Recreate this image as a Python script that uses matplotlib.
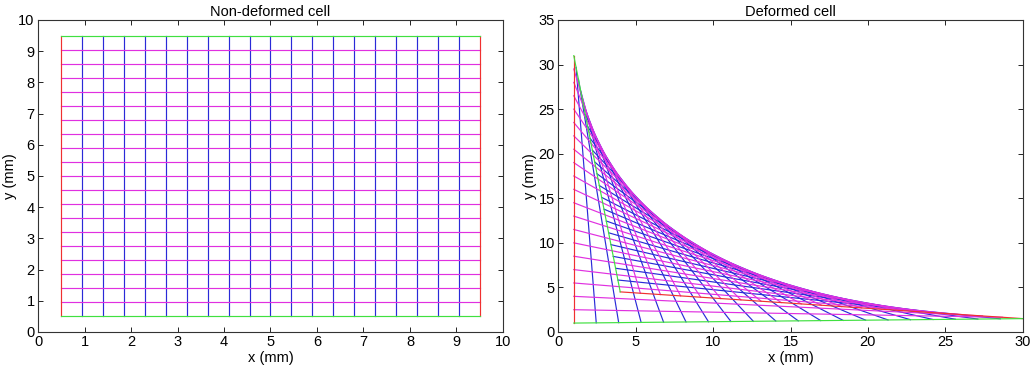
import numpy as np
import matplotlib
matplotlib.use('Agg')
import matplotlib.pyplot as plt

plt.rcParams['font.family'] = ['Liberation Sans', 'DejaVu Sans']
plt.rcParams['font.size'] = 10.5

# non-deformed grid (mm)
grid_x = [0.5, 0.95, 1.4, 1.85, 2.3, 2.75, 3.2, 3.65, 4.1, 4.55, 5.0,
          5.45, 5.9, 6.35, 6.8, 7.25, 7.7, 8.15, 8.6, 9.05, 9.5]
grid_y = [0.5, 0.95, 1.4, 1.85, 2.3, 2.75, 3.2, 3.65, 4.1, 4.55, 5.0,
          5.45, 5.9, 6.35, 6.8, 7.25, 7.7, 8.15, 8.6, 9.05, 9.5]

# deformed cell: images of the vertical lines (bottom end -> top end)
vbot_x = [1.0, 2.45, 3.9, 5.35, 6.8, 8.25, 9.7, 11.15, 12.6, 14.05, 15.5,
          16.95, 18.4, 19.85, 21.3, 22.75, 24.2, 25.65, 27.1, 28.55, 30.0]
vbot_y = [1.0, 1.03, 1.05, 1.08, 1.1, 1.13, 1.15, 1.18, 1.2, 1.23, 1.25,
          1.28, 1.3, 1.33, 1.35, 1.38, 1.4, 1.43, 1.45, 1.48, 1.5]
vtop_x = [1.0, 1.15, 1.3, 1.45, 1.6, 1.75, 1.9, 2.05, 2.2, 2.35, 2.5,
          2.65, 2.8, 2.95, 3.1, 3.25, 3.4, 3.55, 3.7, 3.85, 4.0]
vtop_y = [31.0, 29.68, 28.35, 27.03, 25.7, 24.38, 23.05, 21.73, 20.4, 19.08, 17.75,
          16.43, 15.1, 13.78, 12.45, 11.13, 9.8, 8.48, 7.15, 5.83, 4.5]

# deformed cell: images of the horizontal lines (left end -> right end)
hleft_x = [1.0] * 21
hleft_y = [1.0, 2.5, 4.0, 5.5, 7.0, 8.5, 10.0, 11.5, 13.0, 14.5, 16.0,
           17.5, 19.0, 20.5, 22.0, 23.5, 25.0, 26.5, 28.0, 29.5, 31.0]
hright_x = [30.0, 28.7, 27.4, 26.1, 24.8, 23.5, 22.2, 20.9, 19.6, 18.3, 17.0,
            15.7, 14.4, 13.1, 11.8, 10.5, 9.2, 7.9, 6.6, 5.3, 4.0]
hright_y = [1.5, 1.65, 1.8, 1.95, 2.1, 2.25, 2.4, 2.55, 2.7, 2.85, 3.0,
            3.15, 3.3, 3.45, 3.6, 3.75, 3.9, 4.05, 4.2, 4.35, 4.5]

blue = '#2a2ad8'
mag = '#e030e0'
red = '#f03030'
green = '#40e040'
lw = 0.85

fig = plt.figure(figsize=(10.36, 3.69), dpi=100)
ax1 = fig.add_axes([0.0367, 0.1003, 0.4488, 0.8455])
ax2 = fig.add_axes([0.5389, 0.1003, 0.4483, 0.8455])

# left: non-deformed
n = len(grid_x)
for i in range(1, n - 1):
    ax1.plot([grid_x[i], grid_x[i]], [grid_y[0], grid_y[-1]], color=blue, lw=lw)
for j in range(1, n - 1):
    ax1.plot([grid_x[0], grid_x[-1]], [grid_y[j], grid_y[j]], color=mag, lw=lw)
for i in [0, n - 1]:
    ax1.plot([grid_x[i], grid_x[i]], [grid_y[0], grid_y[-1]], color=red, lw=lw)
for j in [0, n - 1]:
    ax1.plot([grid_x[0], grid_x[-1]], [grid_y[j], grid_y[j]], color=green, lw=lw)

# right: deformed
for i in range(1, n - 1):
    ax2.plot([vbot_x[i], vtop_x[i]], [vbot_y[i], vtop_y[i]], color=blue, lw=lw)
for j in range(1, n - 1):
    ax2.plot([hleft_x[j], hright_x[j]], [hleft_y[j], hright_y[j]], color=mag, lw=lw)
for i in [0, n - 1]:
    ax2.plot([vbot_x[i], vtop_x[i]], [vbot_y[i], vtop_y[i]], color=red, lw=lw)
for j in [0, n - 1]:
    ax2.plot([hleft_x[j], hright_x[j]], [hleft_y[j], hright_y[j]], color=green, lw=lw)

ax1.set_xlim(0, 10)
ax1.set_ylim(0, 10)
ax1.set_xticks(range(0, 11))
ax1.set_yticks(range(0, 11))
ax1.set_title('Non-deformed cell', fontsize=10.5, pad=3)

ax2.set_xlim(0, 30)
ax2.set_ylim(0, 35)
ax2.set_xticks(range(0, 31, 5))
ax2.set_yticks(range(0, 36, 5))
ax2.set_title('Deformed cell', fontsize=10.5, pad=3)

for ax in (ax1, ax2):
    ax.set_xlabel('x (mm)', labelpad=1)
    ax.set_ylabel('y (mm)', labelpad=1)
    ax.tick_params(direction='in', top=True, right=True, length=3.5,
                   width=0.6, pad=2.5, labelsize=10.5)
    for s in ax.spines.values():
        s.set_linewidth(0.8)
        s.set_color('#333333')

fig.savefig('out.png', dpi=100)
